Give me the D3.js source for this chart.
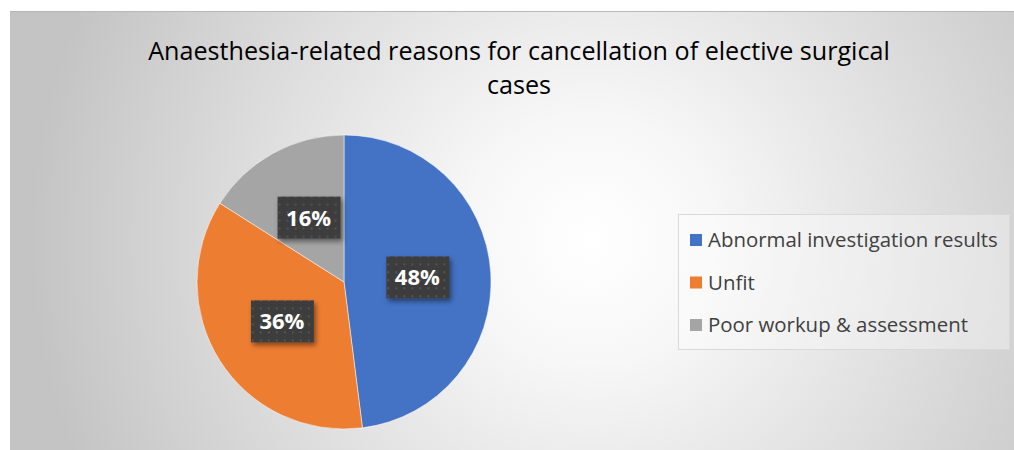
<!DOCTYPE html>
<html><head><meta charset="utf-8">
<script src="https://cdn.jsdelivr.net/npm/d3@7"></script>
<style>html,body{margin:0;padding:0;background:#fff;overflow:hidden}</style>
</head><body><svg id="c" width="1014" height="450"></svg>
<script>
const title = ["Anaesthesia-related reasons for cancellation of elective surgical", "cases"];
const categories = ["Abnormal investigation results", "Unfit", "Poor workup & assessment"];
const values = [48, 36, 16];
const colors = ["#4472C4", "#ED7D31", "#A5A5A5"];

const svg = d3.select("#c");
const defs = svg.append("defs");
const rg = defs.append("radialGradient").attr("id","bg").attr("gradientUnits","userSpaceOnUse")
  .attr("cx",590).attr("cy",240).attr("r",560);
rg.append("stop").attr("offset","0").attr("stop-color","#ffffff");
rg.append("stop").attr("offset","0.22").attr("stop-color","#f7f7f7");
rg.append("stop").attr("offset","1").attr("stop-color","#c4c4c4");

const pat = defs.append("pattern").attr("id","dots").attr("patternUnits","userSpaceOnUse")
  .attr("width",8).attr("height",8);
pat.append("rect").attr("width",8).attr("height",8).attr("fill","#3e3e3e");
pat.append("rect").attr("x",2).attr("y",2).attr("width",2).attr("height",2).attr("fill","#525252");

const f = defs.append("filter").attr("id","sh").attr("x","-30%").attr("y","-30%").attr("width","160%").attr("height","170%");
f.append("feDropShadow").attr("dx",2).attr("dy",3).attr("stdDeviation",2.5).attr("flood-color","#000").attr("flood-opacity",0.45);

svg.append("rect").attr("x",10).attr("y",11).attr("width",1004).attr("height",439).attr("fill","url(#bg)");
svg.append("line").attr("x1",10).attr("x2",1014).attr("y1",11.5).attr("y2",11.5).attr("stroke","#b8b8b8");

const font = "'Open Sans', 'Noto Sans', sans-serif";

// title
const t1 = svg.append("text").attr("x",519).attr("y",60).attr("text-anchor","middle")
  .attr("font-family",font).attr("font-size",24).attr("fill","#000").text(title[0]);
let w = t1.node().getComputedTextLength();
const fs = 24*742/w;
t1.attr("font-size",fs);
svg.append("text").attr("x",519).attr("y",94).attr("text-anchor","middle")
  .attr("font-family",font).attr("font-size",fs).attr("fill","#000").text(title[1]);

// pie
const cx = 344, cy = 282, R = 147;
const pie = d3.pie().sort(null).value(d=>d);
const arcs = pie(values);
const arc = d3.arc().innerRadius(0).outerRadius(R);
const g = svg.append("g").attr("transform",`translate(${cx},${cy})`);
g.selectAll("path").data(arcs).join("path").attr("d",arc).attr("fill",(d,i)=>colors[i])
  .attr("stroke","#ffffff").attr("stroke-width",0.5);

const total = d3.sum(values);
const lab = g.selectAll("g.lab").data(arcs).join("g").attr("class","lab")
  .attr("transform",d=>{const c=arc.centroid(d);return `translate(${c[0]},${c[1]})`;});
lab.append("rect").attr("x",-31).attr("y",-21).attr("width",63).attr("height",42)
  .attr("fill","url(#dots)").attr("filter","url(#sh)");
const pt = lab.append("text").attr("text-anchor","middle").attr("dy","0.36em")
  .attr("font-family",font).attr("font-weight","bold").attr("font-size",20).attr("fill","#fff")
  .text(d=>Math.round(d.data/total*100)+"%");
const pw = pt.nodes()[0].getComputedTextLength();
pt.attr("font-size",20*45/pw);

// legend
const lg = svg.append("g");
lg.append("rect").attr("x",678.5).attr("y",214.5).attr("width",331).attr("height",135)
  .attr("fill","#ffffff").attr("fill-opacity",0.35).attr("stroke","#d9d9d9").attr("stroke-width",1);
const li = lg.selectAll("g.li").data(categories).join("g").attr("class","li")
  .attr("transform",(d,i)=>`translate(690,${240+i*42.5})`);
li.append("rect").attr("x",0).attr("y",-6).attr("width",12).attr("height",12).attr("fill",(d,i)=>colors[i]);
const lt = li.append("text").attr("x",18).attr("dy","0.35em").attr("font-family",font)
  .attr("font-size",19).attr("fill","#404040").text(d=>d);
const lw = lt.nodes()[0].getComputedTextLength();
lt.attr("font-size",19*290/lw);
</script></body></html>
